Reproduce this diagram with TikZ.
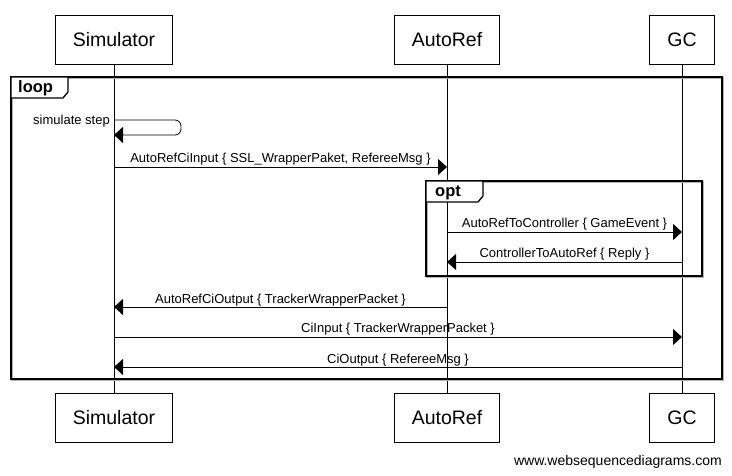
\documentclass[tikz,border=0pt]{standalone}
\usepackage{fontspec}
\setmainfont{Liberation Sans}
\usetikzlibrary{arrows.meta}

\begin{document}
\begin{tikzpicture}[x=1pt,y=-1pt,
		actor/.style={draw, line width=0.8pt, minimum height=49pt, inner xsep=17.5pt, font=\fontsize{19.5}{22}\selectfont},
		lifeline/.style={line width=0.8pt},
		msg/.style={line width=0.8pt, -{Triangle[length=9pt,width=16pt]}},
		lbl/.style={font=\fontsize{13}{15}\selectfont, anchor=base, inner sep=0pt, yshift=4pt},
		frame/.style={line width=1.8pt},
		shade/.style={gray!60, line width=1.8pt},
		tabbox/.style={draw, fill=white, line width=1.3pt},
		tablbl/.style={font=\bfseries\fontsize{16.5}{18}\selectfont, anchor=base west, inner sep=0pt}]
		\useasboundingbox (0,0) rectangle (732,476);
		% actors, top and bottom
		\node[actor] (simT) at (114,39.5) {Simulator};
		\node[actor] (autoT) at (447,39.5) {AutoRef};
		\node[actor] (gcT) at (682,39.5) {GC};
		\node[actor] (simB) at (114,418) {Simulator};
		\node[actor] (autoB) at (447,418) {AutoRef};
		\node[actor] (gcB) at (682,418) {GC};
		\draw[lifeline] (simT) -- (simB);
		\draw[lifeline] (autoT) -- (autoB);
		\draw[lifeline] (gcT) -- (gcB);
		% loop frame
		\draw[shade] (12,78) rectangle (723,380);
		\draw[frame] (11,77) rectangle (722,379);
		\draw[tabbox] (11,77) -- (68,77) -- (68,92) -- (63,98) -- (11,98) -- cycle;
		\node[tablbl] (loopL) at (18,93) {loop};
		% opt frame
		\draw[shade] (427,182) rectangle (703,277);
		\draw[frame] (426,181) rectangle (702,276);
		\draw[tabbox] (426,181) -- (483,181) -- (483,196) -- (478,202) -- (426,202) -- cycle;
		\node[tablbl] (optL) at (435,197) {opt};
		% message rows
		\coordinate (r0) at (0,120);
		\coordinate (r0b) at (181,135);
		\coordinate (r1) at (0,167);
		\coordinate (r2) at (0,232);
		\coordinate (r3) at (0,262);
		\coordinate (r4) at (0,307);
		\coordinate (r5) at (0,337);
		\coordinate (r6) at (0,367);
		\draw[msg, rounded corners=6pt] (simT |- r0) -- (r0b |- r0) -- (r0b) -- (simT |- r0b);
		\node[font=\fontsize{13}{15}\selectfont, anchor=base east, inner sep=0pt] (selfL) at (110,125) {simulate step};
		\draw[msg] (simT |- r1) -- node[lbl] {AutoRefCiInput \{ SSL\_WrapperPaket, RefereeMsg \}} (autoT |- r1);
		\draw[msg] (autoT |- r2) -- node[lbl] {AutoRefToController \{ GameEvent \}} (gcT |- r2);
		\draw[msg] (gcT |- r3) -- node[lbl] {ControllerToAutoRef \{ Reply \}} (autoT |- r3);
		\draw[msg] (autoT |- r4) -- node[lbl] {AutoRefCiOutput \{ TrackerWrapperPacket \}} (simT |- r4);
		\draw[msg] (simT |- r5) -- node[lbl] {CiInput \{ TrackerWrapperPacket \}} (gcT |- r5);
		\draw[msg] (gcT |- r6) -- node[lbl] {CiOutput \{ RefereeMsg \}} (simT |- r6);
		\node[font=\fontsize{14}{16}\selectfont, anchor=base east, inner sep=0pt] (wsd) at (722,465) {www.websequencediagrams.com};
		\end{tikzpicture}
\end{document}
